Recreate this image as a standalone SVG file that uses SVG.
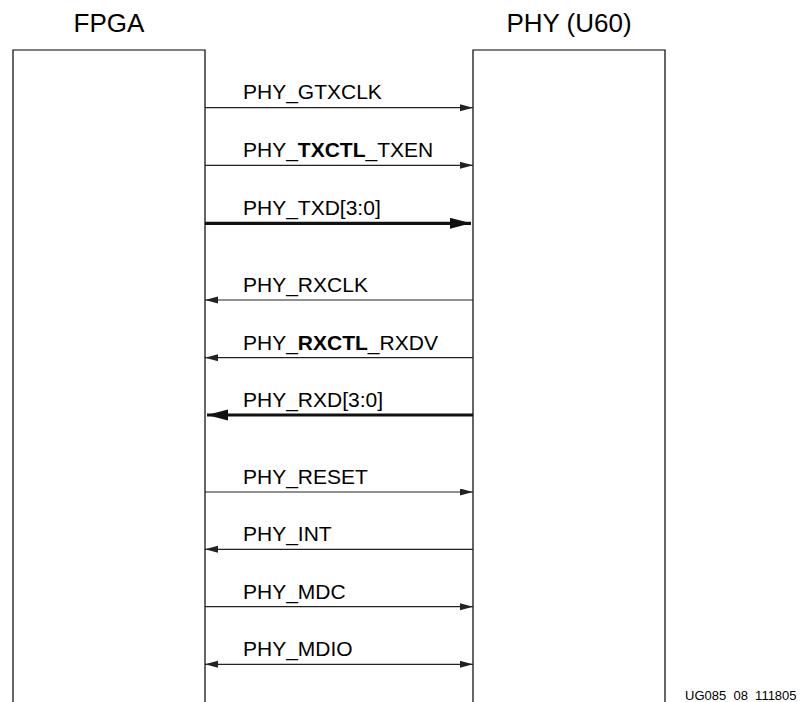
<svg xmlns="http://www.w3.org/2000/svg" width="807" height="702" viewBox="0 0 807 702">
<defs>
<style>
.box{fill:none;stroke:#000;stroke-width:1.2}
.title{font-family:"Liberation Sans",Arial,sans-serif;font-size:26px;fill:#000;text-anchor:middle}
.lbl{font-family:"Liberation Sans",Arial,sans-serif;font-size:21px;fill:#000}
.b{font-weight:bold}
.w{stroke:#222;stroke-width:1.2;fill:none}
.bus{stroke:#111;stroke-width:3.2;fill:none}
.foot{font-family:"Liberation Sans",Arial,sans-serif;font-size:13px;fill:#000}
</style>
<marker id="ah" markerUnits="userSpaceOnUse" markerWidth="14" markerHeight="8" refX="13" refY="3.5" orient="auto-start-reverse" viewBox="0 0 14 8">
<path d="M0,0 L13,3.5 L0,7 z" fill="#222"/>
</marker>
<marker id="ahb" markerUnits="userSpaceOnUse" markerWidth="22" markerHeight="12" refX="21" refY="5.5" orient="auto-start-reverse" viewBox="0 0 22 12">
<path d="M0,0 L21,5.5 L0,11 z" fill="#111"/>
</marker>
</defs>
<rect width="807" height="702" fill="#fff"/>
<g id="fpga">
<path class="box" d="M13,702 V50 H205 V702"/>
<text class="title" x="109" y="31.5">FPGA</text>
</g>
<g id="phy">
<path class="box" d="M473,702 V50 H665 V702"/>
<text class="title" x="569" y="31.5">PHY (U60)</text>
</g>
<g id="connectors">
<line class="w" x1="205" y1="107.7" x2="473" y2="107.7" marker-end="url(#ah)"/>
<line class="w" x1="205" y1="165.3" x2="473" y2="165.3" marker-end="url(#ah)"/>
<line class="bus" x1="205" y1="223.3" x2="471" y2="223.3" marker-end="url(#ahb)"/>
<line class="w" x1="473" y1="300" x2="205" y2="300" marker-end="url(#ah)"/>
<line class="w" x1="473" y1="357.7" x2="205" y2="357.7" marker-end="url(#ah)"/>
<line class="bus" x1="473" y1="415" x2="207" y2="415" marker-end="url(#ahb)"/>
<line class="w" x1="205" y1="492" x2="473" y2="492" marker-end="url(#ah)"/>
<line class="w" x1="473" y1="549.3" x2="205" y2="549.3" marker-end="url(#ah)"/>
<line class="w" x1="205" y1="606.7" x2="473" y2="606.7" marker-end="url(#ah)"/>
<line class="w" x1="205" y1="664.3" x2="473" y2="664.3" marker-start="url(#ah)" marker-end="url(#ah)"/>
</g>
<g id="labels">
<text class="lbl" x="243" y="99.3">PHY_GTXCLK</text>
<text class="lbl" x="243" y="157.3">PHY_<tspan class="b">TXCTL</tspan>_TXEN</text>
<text class="lbl" x="243" y="215">PHY_TXD[3:0]</text>
<text class="lbl" x="243" y="292">PHY_RXCLK</text>
<text class="lbl" x="243" y="349.7">PHY_<tspan class="b">RXCTL</tspan>_RXDV</text>
<text class="lbl" x="243" y="407">PHY_RXD[3:0]</text>
<text class="lbl" x="243" y="484">PHY_RESET</text>
<text class="lbl" x="243" y="541.3">PHY_INT</text>
<text class="lbl" x="243" y="598.7">PHY_MDC</text>
<text class="lbl" x="243" y="656.3">PHY_MDIO</text>
</g>
<text class="foot" x="685" y="700">UG085_08_111805</text>
</svg>
